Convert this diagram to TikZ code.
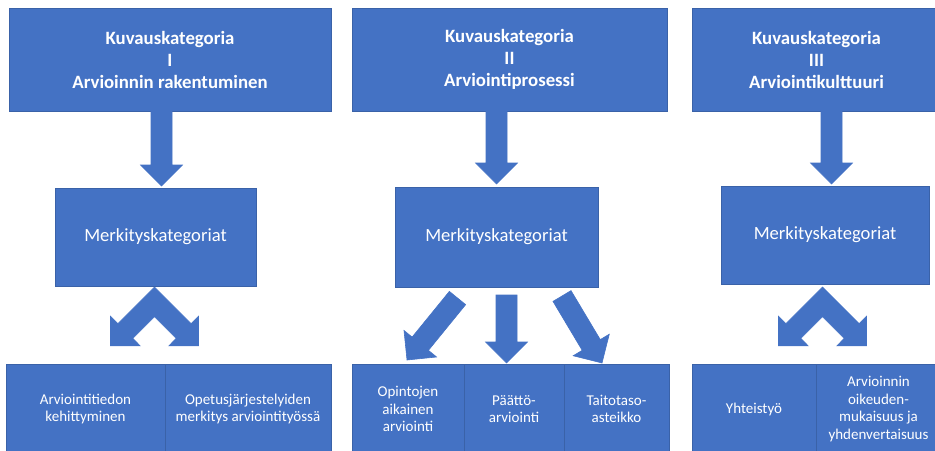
\documentclass[tikz,border=0pt]{standalone}
\usepackage{fontspec}
\setmainfont{Carlito}
\usepackage{tikz}
\usetikzlibrary{positioning, calc}

\definecolor{boxblue}{HTML}{4472C4}
\definecolor{boxline}{HTML}{3A62A8}

% broad arrow from #1 (middle of the tail) to #2 (tip)
\newcommand{\blockarrow}[2]{%
	\coordinate (ba-s) at (#1);
	\coordinate (ba-t) at (#2);
	\coordinate (ba-b) at ($(ba-t)!10.5pt!(ba-s)$);
	\filldraw[arrowbody]
		($(ba-s)!5.25pt!90:(ba-t)$) -- ($(ba-b)!5.25pt!90:(ba-t)$) --
		($(ba-b)!10.5pt!90:(ba-t)$) -- (ba-t) --
		($(ba-b)!10.5pt!-90:(ba-t)$) -- ($(ba-b)!5.25pt!-90:(ba-t)$) --
		($(ba-s)!5.25pt!-90:(ba-t)$) -- cycle;
}

% two broad arrows joined at the top, pointing down left and down right
\newcommand{\twinarrow}[1]{%
	\begin{scope}[shift={(#1)}]
		\filldraw[arrowbody]
			(0,0) -- (36.6,36.6) -- (44,29.2) -- (44,58.9) -- (14.3,58.9) -- (21.7,51.4)
			-- (0,29.7)
			-- (-21.7,51.4) -- (-14.3,58.9) -- (-44,58.9) -- (-44,29.2) -- (-36.6,36.6) -- cycle;
	\end{scope}
}

\begin{document}
\begin{tikzpicture} [
	x=0.5pt, y=-0.5pt, % one unit is one pixel of the sketch, y runs down
	box/.style={draw=boxline, line width=0.5pt, fill=boxblue, text=white, align=center, inner sep=2pt, outer sep=0pt}, % every blue box
	katbox/.style={box, minimum height=51.5pt, font=\fontsize{9.4}{11}\selectfont\bfseries}, % top row
	merkbox/.style={box, minimum height=49pt, font=\fontsize{9.3}{11}\selectfont}, % middle row
	alabox/.style={box, minimum height=45pt, font=\fontsize{7.5}{8.8}\selectfont, anchor=north west}, % bottom row
	arrowbody/.style={fill=boxblue, draw=boxblue, line width=0.3pt, line join=miter},
	]
	\useasboundingbox (0,0) rectangle (935,450);

	\node[katbox, minimum width=161pt] (k1) at (170,59.5) {Kuvauskategoria\\ I\\ Arvioinnin rakentuminen};
	\node[katbox, minimum width=157.5pt] (k2) at (509.5,59.5) {Kuvauskategoria\\ II\\ Arviointiprosessi};
	\node[katbox, minimum width=124.5pt] (k3) at (816.5,59.5) {Kuvauskategoria\\ III\\ Arviointikulttuuri};

	\node[merkbox, minimum width=100.5pt] (m1) at (155.5,237) {Merkityskategoriat};
	\node[merkbox, minimum width=101.5pt, minimum height=50pt] (m2) at (496.5,237) {Merkityskategoriat};
	\node[merkbox, minimum width=104pt] (m3) at (825,235) {Merkityskategoriat};

	\node[alabox, minimum width=79.5pt] (b11) at (6,364) {Arviointitiedon\\ kehittyminen};
	\node[alabox, minimum width=83pt, right=0pt of b11] (b12) {Opetusjärjestelyiden\\ merkitys arviointityössä};

	\node[alabox, minimum width=56pt] (b21) at (352,364) {Opintojen\\ aikainen\\ arviointi};
	\node[alabox, minimum width=50pt, right=0pt of b21] (b22) {Päättö-\\arviointi};
	\node[alabox, minimum width=52.5pt, right=0pt of b22] (b23) {Taitotaso-\\asteikko};

	\node[alabox, minimum width=62pt] (b31) at (692,364) {Yhteistyö};
	\node[alabox, minimum width=62.5pt, right=0pt of b31] (b32) {Arvioinnin\\ oikeuden-\\mukaisuus ja\\ yhdenvertaisuus};

	% top row down to the middle row
	\blockarrow{$(m1.north|-k1.south)+(6,0)$}{$(m1.north)+(6,-2)$}
	\blockarrow{$(m2.north|-k2.south)$}{$(m2.north)+(0,-3)$}
	\blockarrow{$(m3.north|-k3.south)+(6.5,0)$}{$(m3.north)+(6.5,-2)$}

	% middle row down to the bottom row
	\twinarrow{$(m1.south)+(-1,1)$}
	\blockarrow{$(m2.south)+(-39,11)$}{$(b21.north)+(-1,-4)$}
	\blockarrow{$(m2.south)+(10,8)$}{$(b22.north)+(-7.5,-1)$}
	\blockarrow{$(m2.south)+(65.5,9)$}{$(b23.north)+(-14.5,-1)$}
	\twinarrow{$(m3.south)+(-2.5,3)$}
\end{tikzpicture}
\end{document}
